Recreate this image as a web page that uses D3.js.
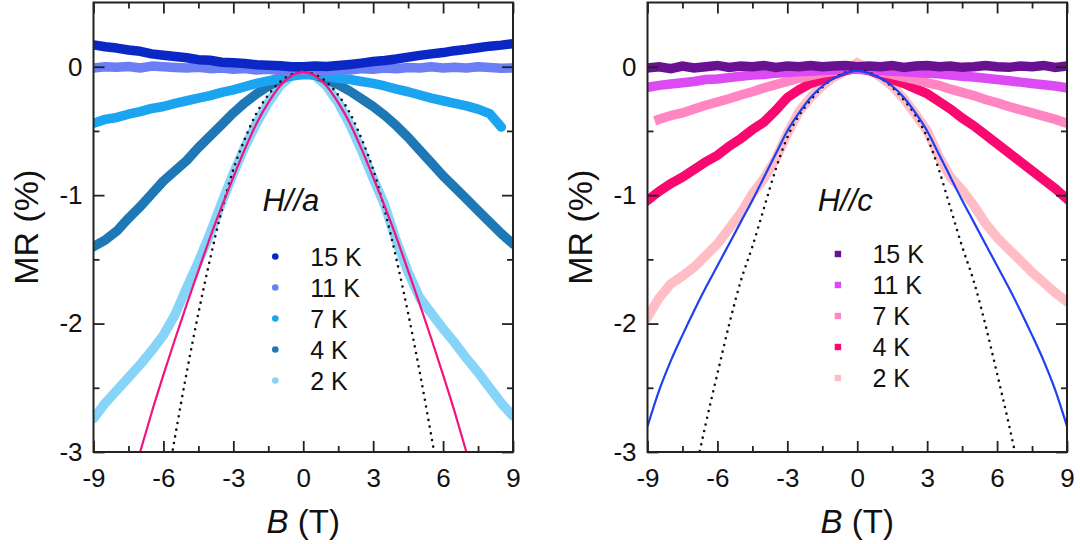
<!DOCTYPE html>
<html>
<head>
<meta charset="utf-8">
<script src="https://cdn.jsdelivr.net/npm/d3@7"></script>
<style>
  html, body { margin: 0; padding: 0; background: #fff; }
  svg { display: block; font-family: "Liberation Sans", Arial, sans-serif; }
  .tick text { fill: #111; }
</style>
</head>
<body>
<div id="chart"></div>
<script>
const fields = [-9,-8.5,-8,-7.5,-7,-6.5,-6,-5.5,-5,-4.5,-4,-3.5,-3,-2.5,-2,-1.5,-1,-0.5,0,0.5,1,1.5,2,2.5,3,3.5,4,4.5,5,5.5,6,6.5,7,7.5,8,8.5,9]
const temps = ['15 K', '11 K', '7 K', '4 K', '2 K']
const xMajor = [-9, -6, -3, 0, 3, 6, 9]
const xMinor = [-7.5, -4.5, -1.5, 1.5, 4.5, 7.5]
const yMajor = [0, -1, -2, -3]
const yMinor = [-0.5, -1.5, -2.5]

// H//a
const aK15 = [0.17,0.155,0.145,0.13,0.12,0.10,0.09,0.08,0.07,0.055,0.05,0.035,0.03,0.025,0.015,0.012,0.008,0.0,0.0,0.005,0.002,0.01,0.018,0.028,0.04,0.048,0.06,0.075,0.088,0.10,0.11,0.125,0.135,0.148,0.16,0.168,0.18]
const aK11 = [-0.01,0.0,-0.005,0.002,-0.01,0.005,0.0,-0.006,-0.01,-0.004,-0.015,-0.01,-0.02,-0.014,-0.025,-0.02,-0.03,-0.026,-0.03,-0.025,-0.03,-0.02,-0.026,-0.015,-0.02,-0.01,-0.016,-0.006,-0.01,0.0,-0.01,-0.004,-0.01,0.0,-0.006,-0.012,-0.01]
const aK7 = [-0.44,-0.41,-0.395,-0.37,-0.35,-0.325,-0.31,-0.285,-0.265,-0.245,-0.225,-0.2,-0.18,-0.155,-0.13,-0.11,-0.09,-0.072,-0.06,-0.065,-0.075,-0.09,-0.10,-0.115,-0.13,-0.15,-0.175,-0.195,-0.22,-0.245,-0.265,-0.285,-0.305,-0.33,-0.365,-0.47,null]
const aK4 = [-1.40,-1.35,-1.28,-1.18,-1.09,-0.99,-0.89,-0.81,-0.73,-0.63,-0.54,-0.45,-0.36,-0.28,-0.21,-0.15,-0.10,-0.065,-0.05,-0.065,-0.10,-0.14,-0.19,-0.25,-0.31,-0.38,-0.46,-0.55,-0.65,-0.75,-0.85,-0.94,-1.03,-1.12,-1.21,-1.30,-1.38]
const aK2 = [-2.74,-2.62,-2.52,-2.42,-2.32,-2.21,-2.09,-1.93,-1.72,-1.52,-1.30,-1.06,-0.83,-0.62,-0.44,-0.28,-0.15,-0.07,-0.04,-0.07,-0.15,-0.28,-0.45,-0.65,-0.87,-1.08,-1.36,-1.60,-1.80,-1.92,-2.04,-2.15,-2.27,-2.38,-2.50,-2.62,-2.72]
const fitA = [null,null,null,-3.32,-3.0,-2.69,-2.4,-2.12,-1.85,-1.59,-1.33,-1.09,-0.86,-0.64,-0.44,-0.28,-0.15,-0.07,-0.04,-0.07,-0.15,-0.28,-0.44,-0.64,-0.86,-1.09,-1.33,-1.59,-1.85,-2.12,-2.4,-2.69,-3.0,-3.32,null,null,null]
const quadA = [null,null,null,null,null,null,-3.4,-2.88,-2.38,-1.92,-1.5,-1.12,-0.8,-0.56,-0.36,-0.22,-0.12,-0.06,-0.04,-0.06,-0.12,-0.22,-0.36,-0.56,-0.8,-1.12,-1.5,-1.92,-2.38,-2.88,-3.4,null,null,null,null,null,null]

// H//c
const cK15 = [-0.01,0.0,-0.015,0.005,-0.01,0.0,0.01,-0.005,0.005,0.0,0.01,-0.005,0.005,0.0,0.01,0.0,0.005,0.01,0.0,0.005,0.0,0.01,-0.005,0.005,0.01,0.0,0.005,-0.005,0.0,0.01,0.0,-0.005,0.005,0.0,0.01,-0.005,0.005]
const cK11 = [-0.16,-0.145,-0.135,-0.125,-0.115,-0.10,-0.095,-0.085,-0.075,-0.065,-0.06,-0.05,-0.045,-0.04,-0.035,-0.03,-0.025,-0.02,-0.02,-0.025,-0.03,-0.035,-0.04,-0.045,-0.05,-0.055,-0.065,-0.075,-0.08,-0.09,-0.10,-0.11,-0.12,-0.13,-0.14,-0.15,-0.165]
const cK7 = [null,-0.41,-0.38,-0.36,-0.33,-0.30,-0.275,-0.25,-0.22,-0.195,-0.165,-0.14,-0.115,-0.09,-0.07,-0.05,-0.035,-0.02,-0.01,-0.02,-0.04,-0.06,-0.08,-0.10,-0.125,-0.145,-0.175,-0.20,-0.225,-0.255,-0.28,-0.31,-0.335,-0.36,-0.385,-0.41,-0.44]
const cK4 = [-1.04,-0.97,-0.91,-0.86,-0.80,-0.74,-0.69,-0.62,-0.56,-0.49,-0.43,-0.34,-0.24,-0.18,-0.13,-0.10,-0.06,-0.03,-0.01,-0.03,-0.06,-0.10,-0.13,-0.17,-0.21,-0.27,-0.33,-0.40,-0.46,-0.53,-0.60,-0.67,-0.74,-0.81,-0.88,-0.95,-1.03]
const cK2 = [-1.95,-1.80,-1.69,-1.63,-1.56,-1.47,-1.38,-1.26,-1.14,-0.99,-0.87,-0.72,-0.52,-0.35,-0.24,-0.15,-0.08,-0.03,0.03,-0.02,-0.08,-0.15,-0.25,-0.37,-0.50,-0.70,-0.86,-0.96,-1.08,-1.22,-1.33,-1.42,-1.51,-1.60,-1.68,-1.76,-1.83]
const fitC = [-2.8,-2.52,-2.29,-2.09,-1.9,-1.72,-1.55,-1.38,-1.21,-1.04,-0.86,-0.68,-0.50,-0.36,-0.24,-0.15,-0.09,-0.05,-0.03,-0.05,-0.09,-0.15,-0.24,-0.36,-0.50,-0.68,-0.86,-1.04,-1.21,-1.38,-1.55,-1.72,-1.9,-2.09,-2.29,-2.52,-2.8]
const quadC = [null,null,null,null,-3.2,-2.78,-2.39,-2.01,-1.67,-1.4,-1.1,-0.8,-0.55,-0.38,-0.26,-0.16,-0.09,-0.045,-0.03,-0.045,-0.09,-0.16,-0.26,-0.38,-0.55,-0.8,-1.1,-1.4,-1.67,-2.01,-2.39,-2.78,-3.2,null,null,null,null]

const width = 1080, height = 544
const plotTop = 2.5, plotBottom = 452

const panels = [
	{ id: 'a', left: 93.5, right: 513, title: 'a', marker: 'circle', join: 'round',
	  series: [aK15, aK11, aK7, aK4, aK2],
	  colors: ['#0b28c6', '#6b7ef4', '#1ba4f0', '#1f78b6', '#86d4f7'],
	  fit: fitA, fitColor: '#f2137e', quad: quadA,
	  legendX: -1.2, textX: 0.3, legendY: 256.5, labelX: 38, titleX: -1.75 },
	{ id: 'c', left: 647.5, right: 1067, title: 'c', marker: 'square', join: 'miter',
	  series: [cK15, cK11, cK7, cK4, cK2],
	  colors: ['#6a1192', '#db4af2', '#ff86c3', '#f8086f', '#ffbdc5'],
	  fit: fitC, fitColor: '#1e40f2', quad: quadC,
	  legendX: -0.83, textX: 0.65, legendY: 254, labelX: 592, titleX: -1.7 }
]

const svg = d3.select('#chart').append('svg')
	.attr('width', width)
	.attr('height', height)

panels.forEach(p => {
	const x = d3.scaleLinear().domain([-9, 9]).range([p.left, p.right])
	const y = d3.scaleLinear().domain([-3, 0.5]).range([plotBottom, plotTop])
	const g = svg.append('g')

	g.append('clipPath').attr('id', 'clip-' + p.id)
		.append('rect')
		.attr('x', p.left).attr('y', plotTop)
		.attr('width', p.right - p.left).attr('height', plotBottom - plotTop)

	const plot = g.append('g').attr('clip-path', 'url(#clip-' + p.id + ')')
	const line = d3.line()
		.defined(d => d[1] != null)
		.x(d => x(d[0]))
		.y(d => y(d[1]))
	const smooth = d3.line()
		.defined(d => d[1] != null)
		.x(d => x(d[0]))
		.y(d => y(d[1]))
		.curve(d3.curveMonotoneX)

	// data bands, coldest first so 15 K sits on top
	d3.range(p.series.length - 1, -1, -1).forEach(i => {
		plot.append('path')
			.datum(fields.map((b, j) => [b, p.series[i][j]]))
			.attr('d', line)
			.attr('fill', 'none')
			.attr('stroke', p.colors[i])
			.attr('stroke-width', 9.5)
			.attr('stroke-linejoin', p.join)
			.attr('stroke-linecap', p.join === 'round' ? 'round' : 'square')
	})

	plot.append('path')
		.datum(fields.map((b, j) => [b, p.quad[j]]))
		.attr('d', smooth)
		.attr('fill', 'none')
		.attr('stroke', '#111')
		.attr('stroke-width', 2.6)
		.attr('stroke-linecap', 'round')
		.attr('stroke-dasharray', '0,6.8')

	plot.append('path')
		.datum(fields.map((b, j) => [b, p.fit[j]]))
		.attr('d', smooth)
		.attr('fill', 'none')
		.attr('stroke', p.fitColor)
		.attr('stroke-width', 2.2)

	// axes, ticks pointing inward on all four sides
	const axes = [
		[d3.axisBottom(x), xMajor, xMinor, 'translate(0,' + plotBottom + ')', 17, true],
		[d3.axisTop(x), xMajor, xMinor, 'translate(0,' + plotTop + ')', 11, false],
		[d3.axisLeft(y), yMajor, yMinor, 'translate(' + p.left + ',0)', 11, true],
		[d3.axisRight(y), yMajor, yMinor, 'translate(' + p.right + ',0)', 11, false]
	]
	axes.forEach(([axis, major, minor, tr, pad, labels]) => {
		const ga = g.append('g').attr('transform', tr)
		ga.call(axis.tickValues(major).tickSize(-11).tickPadding(pad)
			.tickFormat(d => labels ? String(d) : ''))
		ga.append('g').call(axis.tickValues(minor).tickSize(-6).tickFormat(''))
		ga.selectAll('.domain').remove()
		ga.selectAll('line').attr('stroke', '#222').attr('stroke-width', 1.8)
		ga.selectAll('text').attr('font-size', 26).attr('font-family', '"Liberation Sans", Arial, sans-serif')
	})

	g.append('rect')
		.attr('x', p.left).attr('y', plotTop)
		.attr('width', p.right - p.left).attr('height', plotBottom - plotTop)
		.attr('fill', 'none')
		.attr('stroke', '#222')
		.attr('stroke-width', 2)

	// axis titles
	g.append('text')
		.attr('transform', 'translate(' + p.labelX + ',' + ((plotTop + plotBottom) / 2) + ') rotate(-90)')
		.attr('text-anchor', 'middle')
		.attr('font-size', 34)
		.attr('fill', '#111')
		.text('MR (%)')
	const bt = g.append('text')
		.attr('x', x(0)).attr('y', 533)
		.attr('text-anchor', 'middle')
		.attr('font-size', 33)
		.attr('fill', '#111')
	bt.append('tspan').attr('font-style', 'italic').text('B')
	bt.append('tspan').text(' (T)')

	g.append('text')
		.attr('x', x(p.titleX)).attr('y', y(-1.12))
		.attr('font-size', 31)
		.attr('font-style', 'italic')
		.attr('fill', '#111')
		.text('H//' + p.title)

	// legend
	temps.forEach((t, i) => {
		const cy = p.legendY + i * 31
		if (p.marker === 'circle') {
			g.append('circle')
				.attr('cx', x(p.legendX)).attr('cy', cy).attr('r', 3.3)
				.attr('fill', p.colors[i])
		} else {
			g.append('rect')
				.attr('x', x(p.legendX) - 3.2).attr('y', cy - 3.2)
				.attr('width', 6.4).attr('height', 6.4)
				.attr('fill', p.colors[i])
		}
		g.append('text')
			.attr('x', x(p.textX)).attr('y', cy + 9)
			.attr('font-size', 25)
			.attr('fill', '#111')
			.text(t)
	})
})
</script>
</body>
</html>
